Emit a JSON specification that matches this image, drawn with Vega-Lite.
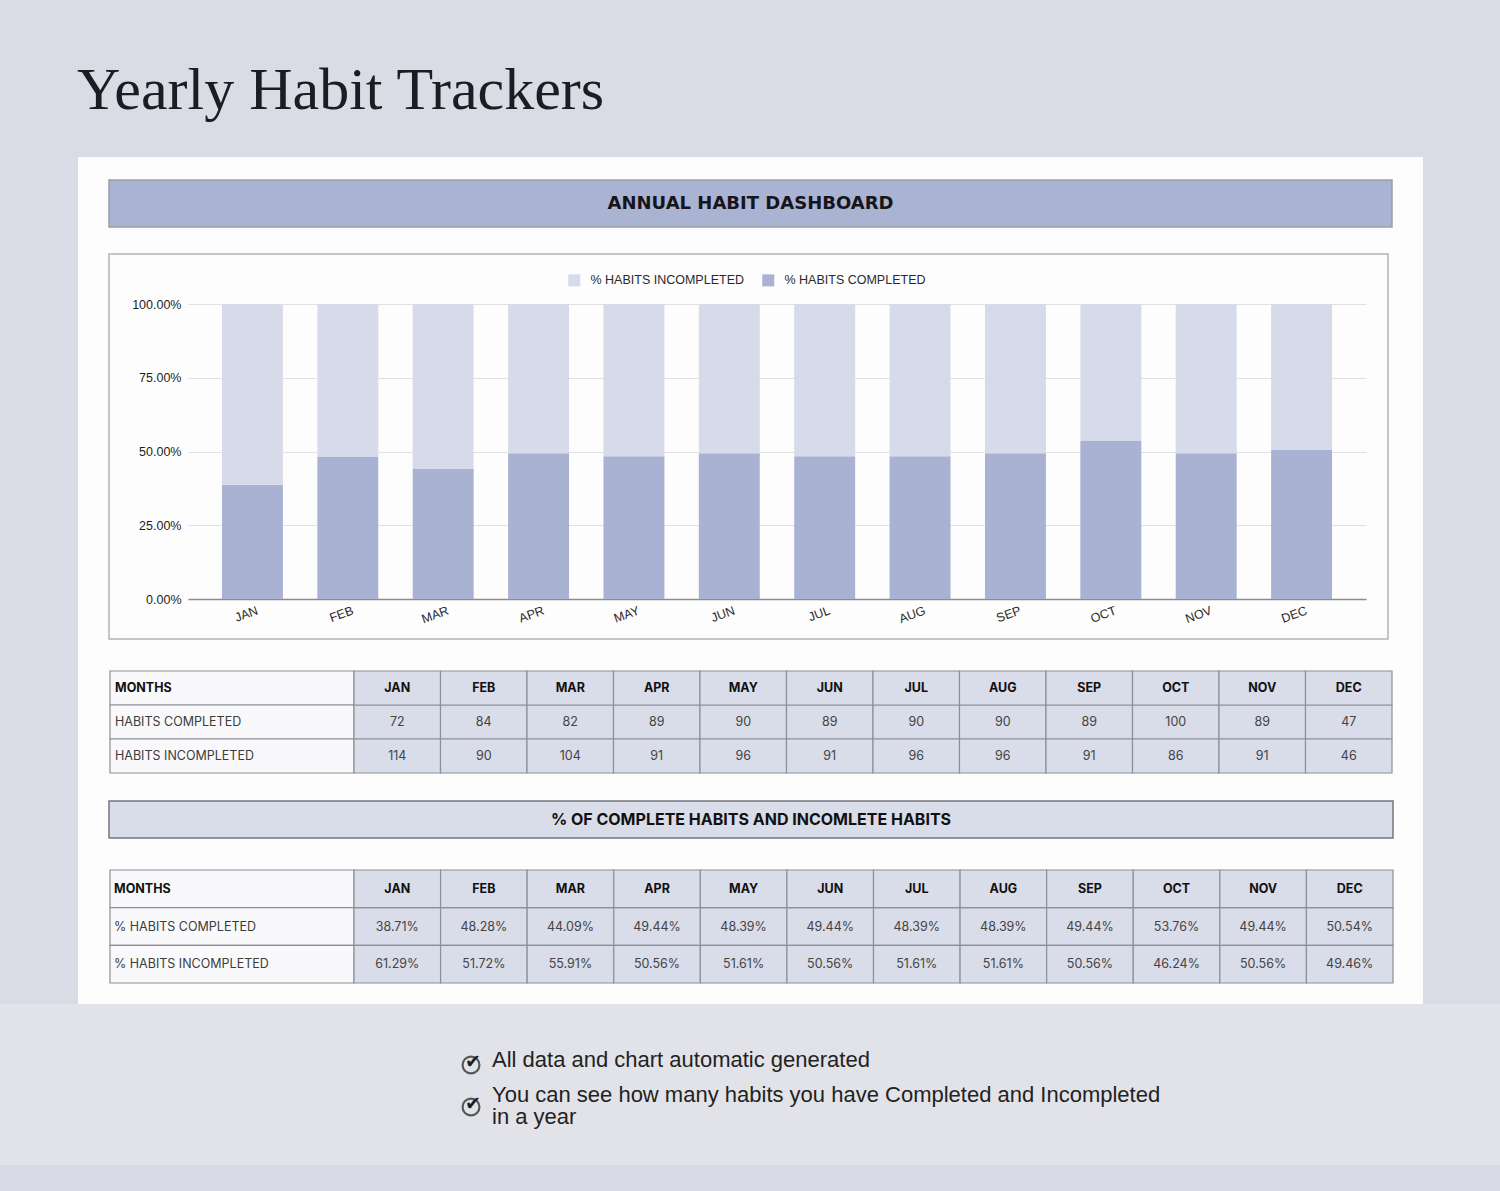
{
  "$schema": "https://vega.github.io/schema/vega-lite/v6.json",
  "background": "#d9dbe5",
  "padding": {"top": 60, "left": 0, "right": 0, "bottom": 0},
  "title": {"text": "Yearly Habit Trackers", "anchor": "start", "dx": 77, "offset": 35, "font": "Liberation Serif", "fontSize": 60, "fontWeight": "normal", "color": "#1c1c22", "baseline": "top"},
  "spacing": 0,
  "center": true,
  "bounds": "flush",
  "config": {"view": {"stroke": null}},
  "datasets": {
    "habits": [
      {"month": "JAN", "count_label": "HABITS COMPLETED", "pct_label": "% HABITS COMPLETED", "count": 72, "pct": 0.3871},
      {"month": "JAN", "count_label": "HABITS INCOMPLETED", "pct_label": "% HABITS INCOMPLETED", "count": 114, "pct": 0.6129},
      {"month": "FEB", "count_label": "HABITS COMPLETED", "pct_label": "% HABITS COMPLETED", "count": 84, "pct": 0.4828},
      {"month": "FEB", "count_label": "HABITS INCOMPLETED", "pct_label": "% HABITS INCOMPLETED", "count": 90, "pct": 0.5172},
      {"month": "MAR", "count_label": "HABITS COMPLETED", "pct_label": "% HABITS COMPLETED", "count": 82, "pct": 0.4409},
      {"month": "MAR", "count_label": "HABITS INCOMPLETED", "pct_label": "% HABITS INCOMPLETED", "count": 104, "pct": 0.5591},
      {"month": "APR", "count_label": "HABITS COMPLETED", "pct_label": "% HABITS COMPLETED", "count": 89, "pct": 0.4944},
      {"month": "APR", "count_label": "HABITS INCOMPLETED", "pct_label": "% HABITS INCOMPLETED", "count": 91, "pct": 0.5056},
      {"month": "MAY", "count_label": "HABITS COMPLETED", "pct_label": "% HABITS COMPLETED", "count": 90, "pct": 0.4839},
      {"month": "MAY", "count_label": "HABITS INCOMPLETED", "pct_label": "% HABITS INCOMPLETED", "count": 96, "pct": 0.5161},
      {"month": "JUN", "count_label": "HABITS COMPLETED", "pct_label": "% HABITS COMPLETED", "count": 89, "pct": 0.4944},
      {"month": "JUN", "count_label": "HABITS INCOMPLETED", "pct_label": "% HABITS INCOMPLETED", "count": 91, "pct": 0.5056},
      {"month": "JUL", "count_label": "HABITS COMPLETED", "pct_label": "% HABITS COMPLETED", "count": 90, "pct": 0.4839},
      {"month": "JUL", "count_label": "HABITS INCOMPLETED", "pct_label": "% HABITS INCOMPLETED", "count": 96, "pct": 0.5161},
      {"month": "AUG", "count_label": "HABITS COMPLETED", "pct_label": "% HABITS COMPLETED", "count": 90, "pct": 0.4839},
      {"month": "AUG", "count_label": "HABITS INCOMPLETED", "pct_label": "% HABITS INCOMPLETED", "count": 96, "pct": 0.5161},
      {"month": "SEP", "count_label": "HABITS COMPLETED", "pct_label": "% HABITS COMPLETED", "count": 89, "pct": 0.4944},
      {"month": "SEP", "count_label": "HABITS INCOMPLETED", "pct_label": "% HABITS INCOMPLETED", "count": 91, "pct": 0.5056},
      {"month": "OCT", "count_label": "HABITS COMPLETED", "pct_label": "% HABITS COMPLETED", "count": 100, "pct": 0.5376},
      {"month": "OCT", "count_label": "HABITS INCOMPLETED", "pct_label": "% HABITS INCOMPLETED", "count": 86, "pct": 0.4624},
      {"month": "NOV", "count_label": "HABITS COMPLETED", "pct_label": "% HABITS COMPLETED", "count": 89, "pct": 0.4944},
      {"month": "NOV", "count_label": "HABITS INCOMPLETED", "pct_label": "% HABITS INCOMPLETED", "count": 91, "pct": 0.5056},
      {"month": "DEC", "count_label": "HABITS COMPLETED", "pct_label": "% HABITS COMPLETED", "count": 47, "pct": 0.5054},
      {"month": "DEC", "count_label": "HABITS INCOMPLETED", "pct_label": "% HABITS INCOMPLETED", "count": 46, "pct": 0.4946}
    ]
  },
  "vconcat": [
    {
      "width": 1344, "height": 97,
      "view": {"fill": "#fdfdfd", "stroke": "#fdfdfd", "strokeWidth": 1},
      "data": {"values": [{"heading": "ANNUAL HABIT DASHBOARD"}]},
      "encoding": {
        "x": {"field": "heading", "type": "nominal", "scale": {"type": "band", "range": [31, 1314], "paddingInner": 0, "paddingOuter": 0}, "axis": null},
        "y": {"field": "heading", "type": "nominal", "scale": {"type": "band", "range": [23, 70], "paddingInner": 0, "paddingOuter": 0}, "axis": null}
      },
      "layer": [
        {"mark": {"type": "bar", "fill": "#abb3d3", "stroke": "#9c9da8", "strokeWidth": 1.5}},
        {"mark": {"type": "text", "font": "DejaVu Sans", "fontWeight": "bold", "fontSize": 18, "color": "#15151a"}, "encoding": {"text": {"field": "heading"}}}
      ]
    },
    {
      "width": 1344, "height": 417,
      "view": {"fill": "#fdfdfd", "stroke": "#fdfdfd", "strokeWidth": 1},
      "layer": [
        {
          "data": {"values": [{"panel": "chart"}]},
          "mark": {"type": "bar", "fill": null, "stroke": "#b3b4ba", "strokeWidth": 1.5},
          "encoding": {
            "x": {"field": "panel", "type": "nominal", "scale": {"type": "band", "range": [31, 1310], "paddingInner": 0, "paddingOuter": 0}, "axis": null},
            "y": {"field": "panel", "type": "nominal", "scale": {"type": "band", "range": [0, 385], "paddingInner": 0, "paddingOuter": 0}, "axis": null}
          }
        },
        {
          "data": {"name": "habits"},
          "mark": {"type": "bar"},
          "encoding": {
            "x": {"field": "month", "type": "nominal", "scale": {"domain": ["JAN","FEB","MAR","APR","MAY","JUN","JUL","AUG","SEP","OCT","NOV","DEC"], "range": [110, 1288], "paddingInner": 0.361, "paddingOuter": 0.356},
              "axis": {"orient": "bottom", "offset": -72, "title": null, "labelAngle": -20, "labelAlign": "right", "labelBaseline": "top", "labelPadding": 5, "labelOffset": 3, "ticks": false, "domainColor": "#8c8c8c", "domainWidth": 1.5, "labelFont": "Liberation Sans", "labelFontSize": 12.5, "labelColor": "#2a2a2a", "grid": false}},
            "y": {"field": "pct", "type": "quantitative", "stack": "zero", "scale": {"domain": [0, 1], "range": [345, 50], "nice": false},
              "axis": {"orient": "left", "offset": -110, "title": null, "format": ".2%", "values": [0, 0.25, 0.5, 0.75, 1], "grid": true, "gridColor": "#e1e1e4", "gridWidth": 1.2, "domain": false, "ticks": false, "labelPadding": 7, "labelFont": "Liberation Sans", "labelFontSize": 12.5, "labelColor": "#1e1e1e"}},
            "color": {"field": "pct_label", "type": "nominal", "scale": {"domain": ["% HABITS INCOMPLETED", "% HABITS COMPLETED"], "range": ["#d7dae9", "#aab2d3"]},
              "legend": {"orient": "none", "legendX": 568, "legendY": 117, "direction": "horizontal", "title": null, "symbolType": "square", "symbolSize": 144, "symbolStrokeWidth": 0, "labelFont": "Liberation Sans", "labelFontSize": 12.5, "labelColor": "#2a2a2a", "labelOffset": 10, "columnPadding": 18, "padding": 0}},
            "order": {"field": "pct_label", "sort": "ascending"}
          }
        }
      ],
      "resolve": {"scale": {"x": "independent", "y": "independent"}}
    },
    {
      "width": 1344, "height": 130,
      "view": {"fill": "#fdfdfd", "stroke": "#fdfdfd", "strokeWidth": 1},
      "layer": [
        {
          "data": {"values": [{"row": "MONTHS"}, {"row": "HABITS COMPLETED"}, {"row": "HABITS INCOMPLETED"}]},
          "encoding": {
            "x": {"datum": "label", "type": "nominal", "scale": {"type": "band", "range": [32, 276], "paddingInner": 0, "paddingOuter": 0}, "axis": null},
            "y": {"field": "row", "type": "nominal", "scale": {"domain": ["MONTHS", "HABITS COMPLETED", "HABITS INCOMPLETED"], "range": [0, 102], "paddingInner": 0, "paddingOuter": 0}, "axis": null}
          },
          "layer": [
            {"mark": {"type": "bar", "fill": "#f9f9fb", "stroke": "#8e8f99", "strokeWidth": 1.2}},
            {"transform": [{"filter": {"field": "row", "equal": "MONTHS"}}],
             "mark": {"type": "text", "align": "left", "dx": 5, "font": "Inter", "fontSize": 12.5, "fontWeight": "bold", "color": "#111111"},
             "encoding": {"x": {"datum": "label", "type": "nominal", "bandPosition": 0, "scale": {"type": "band", "range": [32, 276], "paddingInner": 0, "paddingOuter": 0}, "axis": null}, "text": {"field": "row"}}},
            {"transform": [{"filter": {"not": {"field": "row", "equal": "MONTHS"}}}],
             "mark": {"type": "text", "align": "left", "dx": 5, "font": "Inter", "fontSize": 12.5, "color": "#3c3c3c"},
             "encoding": {"x": {"datum": "label", "type": "nominal", "bandPosition": 0, "scale": {"type": "band", "range": [32, 276], "paddingInner": 0, "paddingOuter": 0}, "axis": null}, "text": {"field": "row"}}}
          ]
        },
        {
          "data": {"name": "habits"},
          "encoding": {
            "x": {"field": "month", "type": "nominal", "scale": {"domain": ["JAN","FEB","MAR","APR","MAY","JUN","JUL","AUG","SEP","OCT","NOV","DEC"], "range": [276, 1314], "paddingInner": 0, "paddingOuter": 0}, "axis": null}
          },
          "layer": [
            {"mark": {"type": "bar", "fill": "#d9dce9", "stroke": "#8e8f99", "strokeWidth": 1.2},
             "encoding": {"y": {"field": "count_label", "type": "nominal", "scale": {"domain": ["MONTHS", "HABITS COMPLETED", "HABITS INCOMPLETED"], "range": [0, 102], "paddingInner": 0, "paddingOuter": 0}, "axis": null}}},
            {"mark": {"type": "text", "font": "Inter", "fontSize": 12.5, "color": "#444444"},
             "encoding": {"y": {"field": "count_label", "type": "nominal", "scale": {"domain": ["MONTHS", "HABITS COMPLETED", "HABITS INCOMPLETED"], "range": [0, 102], "paddingInner": 0, "paddingOuter": 0}, "axis": null}, "text": {"field": "count"}}},
            {"transform": [{"filter": {"field": "count_label", "equal": "HABITS COMPLETED"}}],
             "mark": {"type": "bar", "fill": "#d9dce9", "stroke": "#8e8f99", "strokeWidth": 1.2},
             "encoding": {"y": {"datum": "MONTHS", "type": "nominal", "scale": {"domain": ["MONTHS", "HABITS COMPLETED", "HABITS INCOMPLETED"], "range": [0, 102], "paddingInner": 0, "paddingOuter": 0}, "axis": null}}},
            {"transform": [{"filter": {"field": "count_label", "equal": "HABITS COMPLETED"}}],
             "mark": {"type": "text", "font": "Inter", "fontSize": 12.5, "fontWeight": "bold", "color": "#111111"},
             "encoding": {"y": {"datum": "MONTHS", "type": "nominal", "scale": {"domain": ["MONTHS", "HABITS COMPLETED", "HABITS INCOMPLETED"], "range": [0, 102], "paddingInner": 0, "paddingOuter": 0}, "axis": null}, "text": {"field": "month"}}}
          ]
        }
      ],
      "resolve": {"scale": {"x": "independent"}}
    },
    {
      "width": 1344, "height": 69,
      "view": {"fill": "#fdfdfd", "stroke": "#fdfdfd", "strokeWidth": 1},
      "data": {"values": [{"heading": "% OF COMPLETE HABITS AND INCOMLETE HABITS"}]},
      "encoding": {
        "x": {"field": "heading", "type": "nominal", "scale": {"type": "band", "range": [31, 1315], "paddingInner": 0, "paddingOuter": 0}, "axis": null},
        "y": {"field": "heading", "type": "nominal", "scale": {"type": "band", "range": [0, 37], "paddingInner": 0, "paddingOuter": 0}, "axis": null}
      },
      "layer": [
        {"mark": {"type": "bar", "fill": "#d9dce9", "stroke": "#74757e", "strokeWidth": 1.5}},
        {"mark": {"type": "text", "font": "Inter", "fontWeight": "bold", "fontSize": 16, "color": "#111111"}, "encoding": {"text": {"field": "heading"}}}
      ]
    },
    {
      "width": 1344, "height": 134,
      "view": {"fill": "#fdfdfd", "stroke": "#fdfdfd", "strokeWidth": 1},
      "layer": [
        {
          "data": {"values": [{"row": "MONTHS"}, {"row": "% HABITS COMPLETED"}, {"row": "% HABITS INCOMPLETED"}]},
          "encoding": {
            "x": {"datum": "label", "type": "nominal", "scale": {"type": "band", "range": [32, 276], "paddingInner": 0, "paddingOuter": 0}, "axis": null},
            "y": {"field": "row", "type": "nominal", "scale": {"domain": ["MONTHS", "% HABITS COMPLETED", "% HABITS INCOMPLETED"], "range": [0, 113], "paddingInner": 0, "paddingOuter": 0}, "axis": null}
          },
          "layer": [
            {"mark": {"type": "bar", "fill": "#f9f9fb", "stroke": "#8e8f99", "strokeWidth": 1.2}},
            {"transform": [{"filter": {"field": "row", "equal": "MONTHS"}}],
             "mark": {"type": "text", "align": "left", "dx": 4, "font": "Inter", "fontSize": 12.5, "fontWeight": "bold", "color": "#111111"},
             "encoding": {"x": {"datum": "label", "type": "nominal", "bandPosition": 0, "scale": {"type": "band", "range": [32, 276], "paddingInner": 0, "paddingOuter": 0}, "axis": null}, "text": {"field": "row"}}},
            {"transform": [{"filter": {"not": {"field": "row", "equal": "MONTHS"}}}],
             "mark": {"type": "text", "align": "left", "dx": 4, "font": "Inter", "fontSize": 12.5, "color": "#3c3c3c"},
             "encoding": {"x": {"datum": "label", "type": "nominal", "bandPosition": 0, "scale": {"type": "band", "range": [32, 276], "paddingInner": 0, "paddingOuter": 0}, "axis": null}, "text": {"field": "row"}}}
          ]
        },
        {
          "data": {"name": "habits"},
          "encoding": {
            "x": {"field": "month", "type": "nominal", "scale": {"domain": ["JAN","FEB","MAR","APR","MAY","JUN","JUL","AUG","SEP","OCT","NOV","DEC"], "range": [276, 1315], "paddingInner": 0, "paddingOuter": 0}, "axis": null}
          },
          "layer": [
            {"mark": {"type": "bar", "fill": "#d9dce9", "stroke": "#8e8f99", "strokeWidth": 1.2},
             "encoding": {"y": {"field": "pct_label", "type": "nominal", "scale": {"domain": ["MONTHS", "% HABITS COMPLETED", "% HABITS INCOMPLETED"], "range": [0, 113], "paddingInner": 0, "paddingOuter": 0}, "axis": null}}},
            {"mark": {"type": "text", "font": "Inter", "fontSize": 12.5, "color": "#444444"},
             "encoding": {"y": {"field": "pct_label", "type": "nominal", "scale": {"domain": ["MONTHS", "% HABITS COMPLETED", "% HABITS INCOMPLETED"], "range": [0, 113], "paddingInner": 0, "paddingOuter": 0}, "axis": null}, "text": {"field": "pct", "format": ".2%"}}},
            {"transform": [{"filter": {"field": "pct_label", "equal": "% HABITS COMPLETED"}}],
             "mark": {"type": "bar", "fill": "#d9dce9", "stroke": "#8e8f99", "strokeWidth": 1.2},
             "encoding": {"y": {"datum": "MONTHS", "type": "nominal", "scale": {"domain": ["MONTHS", "% HABITS COMPLETED", "% HABITS INCOMPLETED"], "range": [0, 113], "paddingInner": 0, "paddingOuter": 0}, "axis": null}}},
            {"transform": [{"filter": {"field": "pct_label", "equal": "% HABITS COMPLETED"}}],
             "mark": {"type": "text", "font": "Inter", "fontSize": 12.5, "fontWeight": "bold", "color": "#111111"},
             "encoding": {"y": {"datum": "MONTHS", "type": "nominal", "scale": {"domain": ["MONTHS", "% HABITS COMPLETED", "% HABITS INCOMPLETED"], "range": [0, 113], "paddingInner": 0, "paddingOuter": 0}, "axis": null}, "text": {"field": "month"}}}
          ]
        }
      ],
      "resolve": {"scale": {"x": "independent"}}
    },
    {
      "width": 1500, "height": 161,
      "view": {"fill": "#e2e3e8", "stroke": null},
      "data": {"values": [
        {"item": 1, "text": "All data and chart automatic generated"},
        {"item": 2, "text": "You can see how many habits you have Completed and Incompleted\nin a year"}
      ]},
      "layer": [
        {"mark": {"type": "point", "shape": "circle", "filled": false, "size": 284, "color": "#1e1e1e", "strokeWidth": 2.2},
         "encoding": {
           "x": {"datum": "icon", "type": "nominal", "scale": {"type": "point", "domain": ["icon", "text"], "range": [471, 492], "padding": 0}, "axis": null},
           "y": {"field": "item", "type": "ordinal", "scale": {"type": "point", "range": [61, 103], "padding": 0}, "axis": null}}},
        {"mark": {"type": "text", "text": "✔", "font": "DejaVu Sans", "fontSize": 19, "color": "#1e1e1e", "dx": 2, "dy": -3},
         "encoding": {
           "x": {"datum": "icon", "type": "nominal", "scale": {"type": "point", "domain": ["icon", "text"], "range": [471, 492], "padding": 0}, "axis": null},
           "y": {"field": "item", "type": "ordinal", "scale": {"type": "point", "range": [61, 103], "padding": 0}, "axis": null}}},
        {"mark": {"type": "text", "align": "left", "baseline": "middle", "lineBreak": "\n", "lineHeight": 22, "font": "Liberation Sans", "fontSize": 22, "color": "#222222"},
         "encoding": {
           "x": {"datum": "text", "type": "nominal", "scale": {"type": "point", "domain": ["icon", "text"], "range": [471, 492], "padding": 0}, "axis": null},
           "y": {"field": "item", "type": "ordinal", "scale": {"type": "point", "range": [56, 91], "padding": 0}, "axis": null},
           "text": {"field": "text"}}}
      ],
      "resolve": {"scale": {"y": "independent"}}
    },
    {
      "width": 1500, "height": 26,
      "view": {"fill": "#d8dae8", "stroke": null},
      "data": {"values": []},
      "mark": "point",
      "encoding": {}
    }
  ]
}
